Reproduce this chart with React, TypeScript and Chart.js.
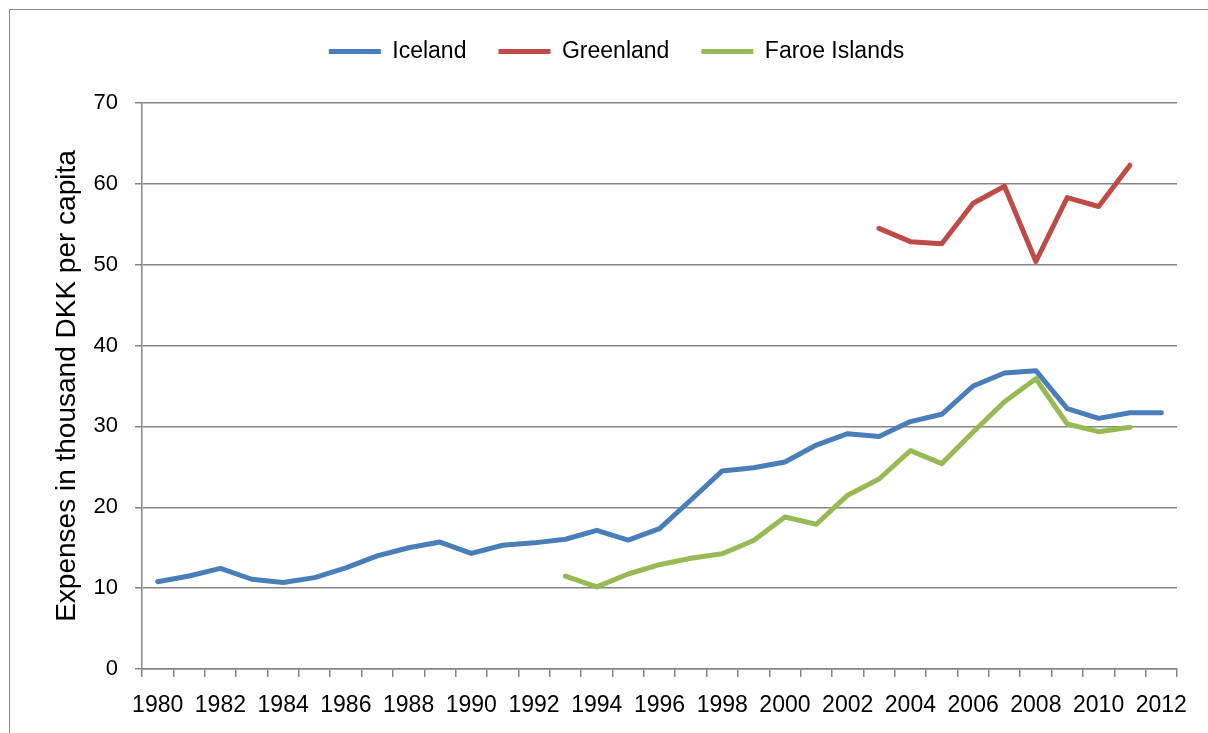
import React, { useEffect, useRef } from 'react';
import { Chart, registerables } from 'chart.js';

Chart.register(...registerables);

const years = [
  '1980', '1981', '1982', '1983', '1984', '1985', '1986', '1987', '1988', '1989',
  '1990', '1991', '1992', '1993', '1994', '1995', '1996', '1997', '1998', '1999',
  '2000', '2001', '2002', '2003', '2004', '2005', '2006', '2007', '2008', '2009',
  '2010', '2011', '2012',
];

const iceland = [
  10.8, 11.5, 12.45, 11.1, 10.7, 11.3, 12.5, 14.0, 15.0, 15.7,
  14.3, 15.3, 15.6, 16.05, 17.15, 15.95, 17.35, 20.9, 24.5, 24.9,
  25.6, 27.7, 29.1, 28.75, 30.6, 31.5, 35.0, 36.6, 36.9, 32.2,
  31.0, 31.7, 31.7,
];

const greenland = [
  null, null, null, null, null, null, null, null, null, null,
  null, null, null, null, null, null, null, null, null, null,
  null, null, null, 54.5, 52.85, 52.6, 57.6, 59.7, 50.4, 58.3,
  57.2, 62.3, null,
];

const faroe = [
  null, null, null, null, null, null, null, null, null, null,
  null, null, null, 11.5, 10.15, 11.75, 12.9, 13.7, 14.25, 15.9,
  18.8, 17.9, 21.5, 23.5, 27.0, 25.4, 29.3, 33.05, 35.9, 30.3,
  29.35, 29.9, null,
];

const yTicks = [0, 10, 20, 30, 40, 50, 60, 70];

const FONT = '"Liberation Sans", Arial, sans-serif';
const GRID = '#868686';

const legendPlacePlugin = {
  id: 'legendPlace',
  beforeUpdate(chart: any) {
    const legend = chart.legend;
    if (legend && !legend.__patched) {
      const origFit = legend.fit;
      legend.fit = function () {
        origFit.call(this);
        this.height = 95;
      };
      legend.__patched = true;
    }
  },
  afterLayout(chart: any) {
    const legend = chart.legend;
    if (legend) {
      legend.left += 28;
      legend.right += 28;
    }
  },
};

export default function App() {
  const ref = useRef<HTMLCanvasElement | null>(null);

  useEffect(() => {
    if (!ref.current) return;
    const mk = (label: string, data: (number | null)[], color: string) => ({
      label,
      data,
      borderColor: color,
      backgroundColor: color,
      borderWidth: 5,
      borderCapStyle: 'round' as const,
      borderJoinStyle: 'round' as const,
      pointRadius: 0,
      pointHoverRadius: 0,
      tension: 0,
      spanGaps: false,
      pointStyle: 'line' as const,
    });
    const chart = new Chart(ref.current, {
      type: 'line',
      data: {
        labels: years,
        datasets: [
          mk('Iceland', iceland, '#4A7EBB'),
          mk('Greenland', greenland, '#BE4B48'),
          mk('Faroe Islands', faroe, '#98B954'),
        ],
      },
      plugins: [legendPlacePlugin],
      options: {
        animation: false,
        responsive: false,
        maintainAspectRatio: false,
        layout: { padding: { left: 0, right: 31, top: 8, bottom: 0 } },
        plugins: {
          tooltip: { enabled: false },
          legend: {
            position: 'top',
            labels: {
              usePointStyle: true,
              pointStyleWidth: 52,
              boxHeight: 5,
              padding: 32,
              color: '#000',
              font: { family: FONT, size: 23 },
            },
          },
        },
        scales: {
          x: {
            offset: true,
            grid: {
              offset: true,
              drawOnChartArea: false,
              drawTicks: true,
              tickLength: 8,
              color: GRID,
              lineWidth: 1.5,
            },
            border: { color: GRID, width: 1.5 },
            ticks: {
              autoSkip: false,
              maxRotation: 0,
              minRotation: 0,
              color: '#000',
              padding: 15,
              font: { family: FONT, size: 23 },
              callback: (_v: any, i: number) => (i % 2 === 0 ? years[i] : ''),
            },
            afterFit: (s: any) => {
              s.height = 64;
            },
          },
          y: {
            min: 0,
            max: 70,
            afterBuildTicks: (s: any) => {
              s.ticks = yTicks.map((v) => ({ value: v }));
            },
            grid: {
              color: GRID,
              lineWidth: 1.5,
              tickLength: 7,
            },
            border: { color: GRID, width: 1.5 },
            ticks: {
              color: '#000',
              padding: 17,
              font: { family: FONT, size: 22 },
            },
            title: {
              display: true,
              text: 'Expenses in thousand DKK per capita',
              color: '#000',
              font: { family: FONT, size: 28 },
              padding: { top: 50, bottom: 0 },
            },
            afterFit: (s: any) => {
              s.width = 142;
            },
          },
        },
      },
    });
    return () => chart.destroy();
  }, []);

  return (
    <div
      style={{
        position: 'fixed',
        left: 0,
        top: 0,
        width: 1208,
        height: 733,
        overflow: 'hidden',
        background: '#fff',
      }}
    >
      <div
        style={{
          position: 'absolute',
          left: 9,
          top: 9,
          width: 1400,
          height: 900,
          border: '1.5px solid #888',
          boxSizing: 'border-box',
        }}
      />
      <canvas
        ref={ref}
        width={1208}
        height={733}
        style={{ position: 'absolute', left: 0, top: 0, width: 1208, height: 733 }}
      />
    </div>
  );
}
